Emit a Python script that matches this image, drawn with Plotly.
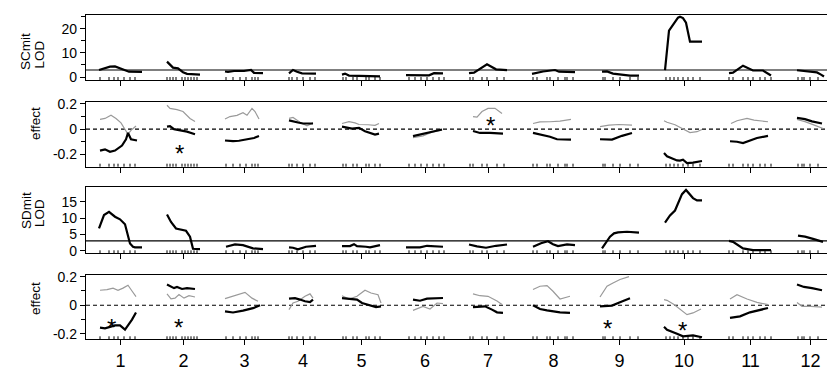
import plotly.graph_objects as go

# ---------------- data ----------------
chrom_names = ["1", "2", "3", "4", "5", "6", "7", "8", "9", "10", "11", "12"]
chrom_len = [43, 33, 39, 28, 39, 38, 38, 43, 39, 40, 43, 27]   # cM
chrom_gap = 25
first_offset = 13

# marker positions (cM within chromosome)
marker_pos = [
    [1, 10, 15, 19, 25, 31, 36], [0, 3, 6, 9, 15, 18, 21, 24, 27, 30],
    [1, 8, 15, 21, 27, 30, 33], [0, 3, 8, 14, 21, 26],
    [1, 4, 11, 15, 24, 27, 33, 38], [3, 9, 15, 21, 27, 33, 38],
    [1, 4, 13, 18, 28, 35], [1, 5, 15, 18, 26, 33, 35, 41],
    [3, 5, 13, 20, 30, 38], [2, 6, 10, 14, 19, 24, 29, 36],
    [0, 4, 14, 19, 24, 31, 36, 42], [1, 5, 7, 13, 21],
]

# SCmit LOD
sc_lod_pos = [
    [0, 8, 11, 16, 21, 25, 30, 43], [0, 3, 6, 11, 16, 20, 33], [0, 3, 9, 19, 26, 29, 38],
    [0, 4, 8, 13, 27], [0, 3, 7, 23, 25, 38], [0, 7, 14, 23, 28, 37], [0, 5, 18, 27, 38],
    [0, 6, 11, 23, 27, 43], [2, 7, 13, 23, 30, 39], [1, 5, 14, 16, 19, 22, 26, 38],
    [0, 4, 14, 24, 34, 42], [0, 10, 20, 24, 27],
]
sc_lod_val = [
    [2.9, 4.0, 4.3, 4.4, 3.6, 2.9, 2.2, 2.1], [6.4, 5.0, 3.9, 3.6, 2.0, 1.3, 1.0],
    [2.3, 2.1, 2.5, 2.5, 2.9, 1.7, 1.6], [1.5, 2.9, 2.2, 1.5, 1.4], [1.0, 1.4, 0.6, 0.6, 0.3, 0.3],
    [0.8, 0.8, 0.5, 0.7, 1.6, 1.5], [1.6, 1.8, 5.3, 3.2, 2.9], [1.3, 1.8, 2.3, 2.9, 2.2, 2.0],
    [2.2, 2.3, 1.4, 1.0, 0.6, 0.6], [2.9, 19.3, 24.7, 25.1, 24.5, 22.6, 14.7, 14.7],
    [1.6, 1.8, 4.7, 2.7, 2.7, 0.6], [2.8, 2.3, 1.9, 1.0, 0.2],
]
sc_threshold = 2.9

# SCmit effects (black = additive, grey = other)
sc_eff_a_pos = [
    [1, 6, 11, 16, 23, 27, 29, 32, 38], [0, 3, 7, 13, 20, 28], [0, 8, 14, 22, 29, 34],
    [0, 4, 9, 14, 24], [0, 10, 17, 23, 33, 37], [7, 12, 17, 27, 36], [4, 11, 21, 34],
    [1, 8, 18, 25, 39], [0, 12, 22, 32], [0, 3, 13, 16, 19, 23, 29, 38],
    [1, 8, 14, 21, 28, 39], [0, 8, 15, 25],
]
sc_eff_a_val = [
    [-0.17, -0.16, -0.18, -0.17, -0.13, -0.08, -0.03, -0.08, -0.09],
    [0.02, 0.024, 0.0, -0.008, -0.02, -0.04], [-0.09, -0.095, -0.092, -0.083, -0.07, -0.055],
    [0.07, 0.065, 0.053, 0.045, 0.045], [0.02, 0.005, 0.01, -0.016, -0.043, -0.035],
    [-0.055, -0.045, -0.035, -0.016, -0.003], [-0.015, -0.03, -0.03, -0.035],
    [-0.03, -0.04, -0.06, -0.08, -0.083], [-0.08, -0.083, -0.053, -0.03],
    [-0.19, -0.215, -0.248, -0.25, -0.243, -0.27, -0.265, -0.253],
    [-0.096, -0.10, -0.11, -0.088, -0.07, -0.053], [0.09, 0.08, 0.062, 0.045],
]
sc_eff_d_pos = [
    [1, 6, 12, 17, 22, 26, 29, 32, 37], [0, 3, 10, 16, 23, 28], [0, 5, 12, 18, 22, 27, 30, 34],
    [0, 4, 11, 18, 24], [0, 7, 13, 17, 26, 33, 37], [7, 17, 27, 36], [4, 8, 13, 19, 26, 33],
    [1, 8, 18, 28, 39], [0, 9, 19, 32], [0, 3, 11, 19, 26, 33, 38], [2, 8, 18, 25, 39],
    [0, 8, 18, 26],
]
sc_eff_d_val = [
    [0.077, 0.085, 0.11, 0.085, 0.05, 0.0, -0.04, -0.01, 0.025],
    [0.19, 0.165, 0.155, 0.14, 0.085, 0.06], [0.08, 0.10, 0.11, 0.13, 0.11, 0.165, 0.14, 0.08],
    [0.085, 0.093, 0.055, 0.027, 0.05], [0.045, 0.06, 0.05, 0.037, 0.035, 0.03, 0.045],
    [-0.067, -0.053, -0.021, -0.008], [0.10, 0.095, 0.14, 0.165, 0.165, 0.125],
    [0.045, 0.058, 0.059, 0.064, 0.077], [0.02, 0.032, 0.037, 0.032],
    [0.067, 0.055, 0.035, 0.0, -0.027, -0.02, -0.003], [0.045, 0.067, 0.085, 0.072, 0.059],
    [0.077, 0.06, 0.03, 0.005],
]
sc_star_chrom = [2, 7]
sc_star_pos = [12, 21]
sc_star_val = [-0.147, 0.08]

# SDmit LOD
sd_lod_pos = [
    [0, 5, 10, 13, 16, 21, 26, 31, 34, 36, 43], [0, 4, 9, 14, 19, 23, 26, 33],
    [1, 10, 18, 28, 38], [0, 4, 9, 17, 27], [0, 8, 12, 15, 24, 28, 38], [0, 14, 21, 37],
    [0, 8, 17, 27, 38], [1, 9, 16, 21, 26, 35, 43], [2, 6, 10, 14, 18, 27, 39],
    [1, 6, 11, 18, 22, 29, 33, 38], [0, 4, 14, 19, 24, 42], [1, 8, 16, 26],
]
sd_lod_val = [
    [6.8, 10.9, 11.9, 11.2, 10.4, 9.6, 8.1, 2.2, 1.2, 1.0, 1.0],
    [11.1, 8.8, 6.8, 6.4, 6.1, 4.3, 0.6, 0.5], [1.2, 1.9, 1.7, 0.7, 0.5], [1.0, 0.9, 0.4, 1.2, 1.5],
    [1.4, 1.4, 2.0, 1.4, 1.2, 1.0, 1.7], [1.0, 1.0, 1.5, 1.2], [1.9, 1.3, 0.9, 1.5, 1.9],
    [1.2, 2.3, 2.9, 2.0, 1.4, 1.9, 1.7], [0.7, 2.5, 4.3, 5.3, 5.6, 5.8, 5.5],
    [8.6, 10.8, 12.3, 17.3, 18.6, 16.1, 15.4, 15.4], [3.0, 2.7, 0.7, 0.4, 0.2, 0.2],
    [4.6, 4.3, 3.6, 2.7],
]
sd_threshold = 3.0

# SDmit effects
sd_eff_a_pos = [
    [1, 6, 11, 16, 21, 26, 29, 33, 37], [0, 4, 7, 10, 15, 20, 28], [0, 8, 18, 28, 35],
    [0, 6, 11, 16, 21, 24], [0, 8, 15, 20, 28, 34, 39], [7, 14, 21, 37], [4, 16, 23, 28, 34],
    [1, 8, 15, 21, 28, 38], [0, 12, 20, 30], [0, 3, 13, 19, 29, 38], [1, 11, 21, 31, 39],
    [0, 7, 15, 25],
]
sd_eff_a_val = [
    [-0.155, -0.16, -0.15, -0.14, -0.14, -0.17, -0.14, -0.1, -0.05],
    [0.145, 0.133, 0.12, 0.128, 0.114, 0.12, 0.114], [-0.042, -0.05, -0.037, -0.02, 0.0],
    [0.047, 0.05, 0.04, 0.028, 0.022, 0.04], [0.05, 0.044, 0.04, 0.016, 0.0, -0.012, -0.008],
    [0.04, 0.032, 0.047, 0.051], [-0.012, -0.007, -0.03, -0.049, -0.053],
    [0.0, -0.026, -0.035, -0.042, -0.049, -0.053], [-0.007, -0.002, 0.021, 0.05],
    [-0.15, -0.17, -0.198, -0.216, -0.21, -0.223], [-0.088, -0.077, -0.049, -0.035, -0.019],
    [0.145, 0.128, 0.12, 0.105],
]
sd_eff_d_pos = [
    [1, 8, 14, 19, 24, 29, 33, 37], [0, 4, 8, 12, 17, 22, 28], [0, 7, 13, 20, 27, 33],
    [0, 4, 9, 16, 21, 24], [0, 7, 15, 23, 29, 36, 39], [7, 17, 24, 31, 37], [4, 11, 19, 28, 33],
    [1, 8, 15, 21, 28, 38], [0, 7, 13, 20, 29], [0, 3, 10, 16, 23, 29, 37], [1, 8, 18, 28, 39],
    [0, 5, 14, 25],
]
sd_eff_d_val = [
    [0.105, 0.11, 0.12, 0.105, 0.12, 0.14, 0.1, 0.06], [0.08, 0.045, 0.05, 0.075, 0.05, 0.067, 0.058],
    [0.047, 0.063, 0.074, 0.09, 0.05, 0.028], [-0.03, 0.016, 0.028, 0.063, 0.08, 0.05],
    [0.067, 0.044, 0.063, 0.105, 0.086, 0.074, 0.016], [-0.035, -0.007, -0.026, 0.016, 0.012],
    [0.08, 0.067, 0.063, 0.03, 0.005], [0.11, 0.133, 0.137, 0.098, 0.044, 0.063],
    [0.058, 0.133, 0.156, 0.18, 0.2], [0.04, 0.035, 0.005, -0.03, -0.065, -0.053, -0.026],
    [0.044, 0.074, 0.044, 0.021, 0.005], [0.02, -0.007, -0.007, -0.012],
]
sd_star_chrom = [1, 2, 9, 10]
sd_star_pos = [12, 11, 7, 18]
sd_star_val = [-0.11, -0.11, -0.12, -0.135]

lod1_ticks = [0, 10, 20]
lod3_ticks = [0, 5, 10, 15]
eff_ticks = [-0.2, 0, 0.2]
eff_tick_text = ["-0.2", "0", "0.2"]

# ---------------- layout helpers ----------------
offsets = []
acc = first_offset
for L in chrom_len:
    offsets.append(acc)
    acc += L + chrom_gap
centers = [o + L / 2 for o, L in zip(offsets, chrom_len)]

FONT = "Liberation Sans, Arial, sans-serif"
W, H = 827, 371
ML, MT, MB = 86, 15, 31
PH = H - MT - MB


def ydom(top_px, bot_px):
    return [(H - MB - bot_px) / PH, (H - MB - top_px) / PH]


def concat(pos_list, val_list):
    xs, ys = [], []
    for c, (ps, vs) in enumerate(zip(pos_list, val_list)):
        xs += [offsets[c] + p for p in ps] + [None]
        ys += list(vs) + [None]
    return xs, ys


panels = [
    dict(top=15, bot=80, rng=[-1.25, 25.8]),
    dict(top=101.7, bot=166.7, rng=[-0.298, 0.218]),
    dict(top=187.3, bot=253.3, rng=[-0.8, 19.4]),
    dict(top=274.7, bot=339.3, rng=[-0.237, 0.2135]),
]

fig = go.Figure()
BLACK_W = 2.2
GREY = "#9a9a9a"


def axn(k, letter):
    return letter if k == 1 else f"{letter}{k}"


def add_line(xs, ys, k, color, width):
    fig.add_trace(go.Scatter(x=xs, y=ys, mode="lines", xaxis=axn(k, "x"), yaxis=axn(k, "y"),
                             line=dict(color=color, width=width), connectgaps=False,
                             hoverinfo="skip", showlegend=False))


# panel 1
xs, ys = concat(sc_lod_pos, sc_lod_val)
add_line(xs, ys, 1, "black", BLACK_W)
# panel 2
xs, ys = concat(sc_eff_d_pos, sc_eff_d_val)
add_line(xs, ys, 2, GREY, 1.2)
xs, ys = concat(sc_eff_a_pos, sc_eff_a_val)
add_line(xs, ys, 2, "black", BLACK_W)
# panel 3
xs, ys = concat(sd_lod_pos, sd_lod_val)
add_line(xs, ys, 3, "black", BLACK_W)
# panel 4
xs, ys = concat(sd_eff_d_pos, sd_eff_d_val)
add_line(xs, ys, 4, GREY, 1.2)
xs, ys = concat(sd_eff_a_pos, sd_eff_a_val)
add_line(xs, ys, 4, "black", BLACK_W)

shapes = []
# thresholds and zero lines
for k, yv, dash in [(1, sc_threshold, "solid"), (3, sd_threshold, "solid"),
                    (2, 0, "4px,3px"), (4, 0, "4px,3px")]:
    shapes.append(dict(type="line", xref=axn(k, "x") + " domain", yref=axn(k, "y"),
                       x0=0, x1=1, y0=yv, y1=yv,
                       line=dict(color="black", width=1.1, dash=dash), layer="below"))
# marker rug (short inward ticks at bottom of each panel)
for k in range(1, 5):
    p = panels[k - 1]
    frac = 3.0 / (p["bot"] - p["top"])
    for c, ps in enumerate(marker_pos):
        for m in ps:
            shapes.append(dict(type="line", xref=axn(k, "x"), yref=axn(k, "y") + " domain",
                               x0=offsets[c] + m, x1=offsets[c] + m, y0=0, y1=frac,
                               line=dict(color="black", width=1)))

annotations = []
for k, chs, ps, vs in [(2, sc_star_chrom, sc_star_pos, sc_star_val),
                       (4, sd_star_chrom, sd_star_pos, sd_star_val)]:
    for c, p, v in zip(chs, ps, vs):
        annotations.append(dict(x=offsets[c - 1] + p, y=v, xref=axn(k, "x"), yref=axn(k, "y"),
                                text="*", showarrow=False, yshift=-6,
                                font=dict(family=FONT, size=24, color="black")))


def px2x(px):
    return (px - ML) / (W - ML)


def py2y(py):
    return (H - MB - py) / PH


for txt, px, py in [("SCmit", 26, 52), ("LOD", 39, 54.5), ("effect", 35, 124),
                    ("SDmit", 26, 211), ("LOD", 39, 213), ("effect", 35, 299)]:
    annotations.append(dict(x=px2x(px), y=py2y(py), xref="paper", yref="paper", text=txt,
                            textangle=-90, showarrow=False, xanchor="center", yanchor="middle",
                            font=dict(family=FONT, size=13.5, color="black")))

layout = dict(width=W, height=H, margin=dict(l=ML, r=0, t=MT, b=MB),
              paper_bgcolor="white", plot_bgcolor="white", shapes=shapes,
              annotations=annotations, showlegend=False,
              font=dict(family=FONT, size=13, color="black"))

for k in range(1, 5):
    p = panels[k - 1]
    layout[axn(k, "xaxis")] = dict(
        range=[0, W - ML], anchor=axn(k, "y"), domain=[0, 1], showgrid=False, zeroline=False,
        showline=True, linecolor="black", linewidth=1.3, mirror=True,
        ticks="outside", ticklen=5, tickwidth=1, tickcolor="black",
        tickvals=centers, ticktext=chrom_names, showticklabels=(k == 4),
        tickfont=dict(family=FONT, size=18, color="black"),
        matches=None if k == 1 else "x")
    yd = dict(domain=ydom(p["top"], p["bot"]), range=p["rng"], anchor=axn(k, "x"),
              showgrid=False, zeroline=False, showline=True, linecolor="black", linewidth=1.3,
              ticks="outside", ticklen=5, tickwidth=1, tickcolor="black",
              tickfont=dict(family=FONT, size=14, color="black"))
    if k == 1:
        yd.update(tickvals=lod1_ticks, minor=dict(dtick=5, tick0=0, ticks="outside", ticklen=4,
                                                  tickcolor="black", tickwidth=1))
    elif k == 3:
        yd.update(tickvals=lod3_ticks)
    else:
        yd.update(tickvals=eff_ticks, ticktext=eff_tick_text,
                  minor=dict(dtick=0.1, tick0=0, ticks="outside", ticklen=4,
                             tickcolor="black", tickwidth=1))
    layout[axn(k, "yaxis")] = yd

fig.update_layout(**layout)
fig.write_html("out.html", config={"displayModeBar": False},
               post_script="document.body.style.margin='0';document.body.style.overflow='hidden';")
